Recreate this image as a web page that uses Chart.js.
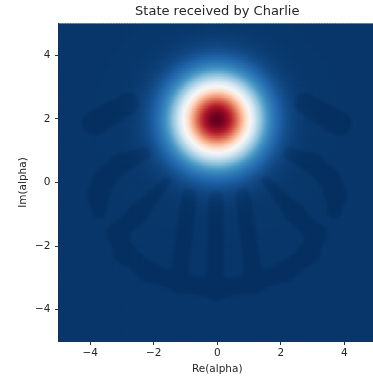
<!DOCTYPE html>
<html lang="en">
<head>
  <meta charset="UTF-8">
  <title>State received by Charlie</title>
  <script src="https://cdn.jsdelivr.net/npm/chart.js"></script>
  <style>
    html, body { margin: 0; padding: 0; background: #fff; overflow: hidden; }
    #wrap { width: 373px; height: 379px; overflow: hidden; }
  </style>
</head>
<body>
  <div id="wrap">
    <canvas id="wigner" width="380" height="379"></canvas>
  </div>

  <script>
    // axis ticks
    const xTicks = [-4, -2, 0, 2, 4];
    const yTicks = [-4, -2, 0, 2, 4];
    const axisRange = [-5, 5];

    // coherent peak
    const peakCenter = [0, 2];
    const peakWidth = 0.88;
    const peakValue = 1;

    // faint negative fringes: polylines of [re, im, half width]
    const fringeDepth = 0.014;
    const upperLobes = [
      [[-3.85, 1.88, 0.39], [-2.78, 2.5, 0.33]],
      [[3.85, 1.88, 0.39], [2.78, 2.5, 0.33]]
    ];
    const sideLobes = [
      [[-2.3, 0.92, 0.21], [-3.05, 0.6, 0.28], [-3.55, 0.12, 0.3], [-3.75, -0.35, 0.3], [-3.7, -0.88, 0.23]],
      [[2.3, 0.92, 0.21], [3.05, 0.6, 0.28], [3.55, 0.12, 0.3], [3.75, -0.35, 0.3], [3.7, -0.88, 0.23]]
    ];
    const crescentBase = [
      [[-3.15, -1.6, 0.27], [-2.9, -2.2, 0.3], [-2.15, -2.8, 0.28], [-1.15, -3.15, 0.28], [0, -3.33, 0.3],
       [1.15, -3.15, 0.28], [2.15, -2.8, 0.28], [2.9, -2.2, 0.3], [3.15, -1.6, 0.27]]
    ];
    const crescentStripes = [
      [[-1.58, 0.05, 0.14], [-2.5, -0.97, 0.27], [-3.15, -1.6, 0.3]],
      [[-0.88, -0.42, 0.24], [-1.18, -2.9, 0.28]],
      [[-0.03, -0.5, 0.24], [-0.06, -3.1, 0.27]],
      [[0.82, -0.4, 0.24], [1.15, -2.9, 0.28]],
      [[1.55, 0.07, 0.14], [2.45, -0.95, 0.27], [3.1, -1.6, 0.3]]
    ];
    const fringePaths = upperLobes.concat(sideLobes, crescentBase, crescentStripes);

    // RdBu_r colormap stops
    const cmap = [[5,48,97],[33,102,172],[67,147,195],[146,197,222],[209,229,240],[247,247,247],
                  [253,219,199],[244,165,130],[214,96,77],[178,24,43],[103,0,31]];

    const gridStep = 0.05;

    // signed distance to a capsule whose radius varies along the segment
    function capsule(px, py, a, b) {
      const vx = b[0] - a[0], vy = b[1] - a[1];
      let t = ((px - a[0]) * vx + (py - a[1]) * vy) / (vx * vx + vy * vy);
      t = Math.max(0, Math.min(1, t));
      const dx = px - (a[0] + t * vx), dy = py - (a[1] + t * vy);
      return Math.sqrt(dx * dx + dy * dy) - (a[2] + (b[2] - a[2]) * t);
    }

    function smin(a, b, k) {
      const h = Math.max(k - Math.abs(a - b), 0) / k;
      return Math.min(a, b) - h * h * k * 0.25;
    }

    function smoothstep(a, b, v) {
      const t = Math.max(0, Math.min(1, (v - a) / (b - a)));
      return t * t * (3 - 2 * t);
    }

    function fieldAt(x, y) {
      const dx = x - peakCenter[0], dy = y - peakCenter[1];
      const w = peakValue * Math.exp(-(dx * dx + dy * dy) / (2 * peakWidth * peakWidth));
      let sd = 10;
      fringePaths.forEach(path => {
        for (let i = 0; i < path.length - 1; i++) {
          sd = smin(sd, capsule(x, y, path[i], path[i + 1]), 0.22);
        }
      });
      const m = 1 - smoothstep(-0.09, 0.09, sd);
      return w - fringeDepth * m;
    }

    function colorFor(v) {
      const vmin = -fringeDepth, vmax = peakValue;
      let t = (v - vmin) / (vmax - vmin);
      t = Math.max(0, Math.min(1, t)) * (cmap.length - 1);
      const i = Math.min(cmap.length - 2, Math.floor(t));
      const f = t - i;
      const c = cmap[i].map((c0, j) => Math.round(c0 + (cmap[i + 1][j] - c0) * f));
      return `rgb(${c[0]},${c[1]},${c[2]})`;
    }

    const cells = [];
    const cellColors = [];
    const n = Math.round((axisRange[1] - axisRange[0]) / gridStep);
    for (let j = 0; j <= n; j++) {
      for (let i = 0; i <= n; i++) {
        const x = axisRange[0] + i * gridStep;
        const y = axisRange[0] + j * gridStep;
        cells.push({ x: x, y: y });
        cellColors.push(colorFor(fieldAt(x, y)));
      }
    }

    const labelFont = { family: 'DejaVu Sans', size: 10.5 };
    const textColor = '#262626';
    const fmt = v => (v < 0 ? '\u2212' + Math.abs(v) : String(v));

    var ctx = document.getElementById('wigner').getContext('2d');
    var wignerChart = new Chart(ctx, {
      type: 'scatter',
      data: {
        datasets: [{
          data: cells,
          backgroundColor: cellColors,
          borderColor: cellColors,
          pointStyle: 'rect',
          pointRadius: 1.7,
          pointBorderWidth: 0,
          borderWidth: 0,
          clip: 0
        }]
      },
      options: {
        responsive: false,
        animation: false,
        events: [],
        layout: { padding: { left: 0, right: 4, top: 0, bottom: 0 } },
        plugins: {
          legend: { display: false },
          tooltip: { enabled: false },
          title: {
            display: true,
            text: 'State received by Charlie',
            fullSize: false,
            color: textColor,
            font: { family: 'DejaVu Sans', size: 13, weight: 'normal' },
            padding: { top: 4, bottom: 4 }
          }
        },
        scales: {
          x: {
            type: 'linear',
            min: axisRange[0],
            max: axisRange[1],
            afterBuildTicks: s => { s.ticks = xTicks.map(v => ({ value: v })); },
            afterFit: s => { s.height = 37.5; },
            ticks: { callback: fmt, font: labelFont, color: textColor, padding: 2, maxRotation: 0, autoSkip: false },
            grid: { drawOnChartArea: false, tickLength: 3.5, color: '#333' },
            border: { color: '#333', width: 1 },
            title: { display: true, text: 'Re(alpha)', font: labelFont, color: textColor, padding: { top: 0, bottom: 3.7 } }
          },
          y: {
            type: 'linear',
            min: axisRange[0],
            max: axisRange[1],
            afterBuildTicks: s => { s.ticks = yTicks.map(v => ({ value: v })); },
            afterFit: s => { s.width = 58.5; },
            ticks: { callback: fmt, font: labelFont, color: textColor, padding: 4.5, autoSkip: false },
            grid: { drawOnChartArea: false, tickLength: 3.5, color: '#333' },
            border: { color: '#333', width: 1 },
            title: { display: true, text: 'Im(alpha)', font: labelFont, color: textColor, padding: { top: 16.7, bottom: 0 } }
          }
        }
      }
    });
  </script>
</body>
</html>
